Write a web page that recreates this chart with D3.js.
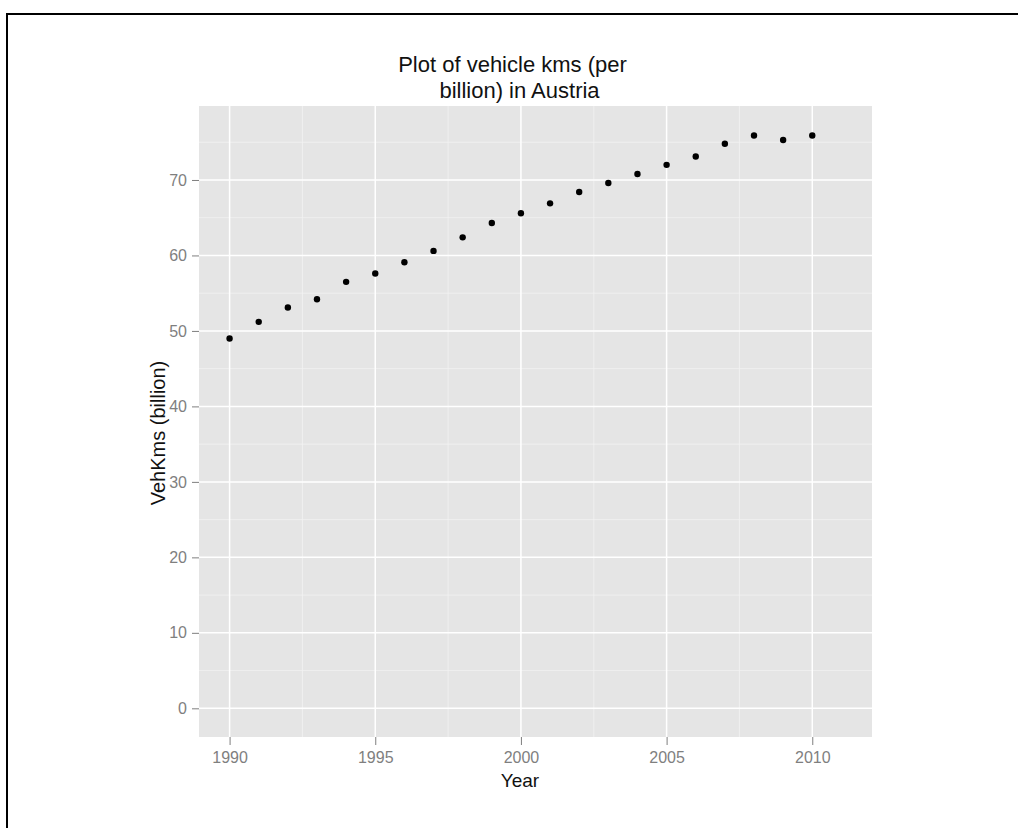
<!DOCTYPE html>
<html>
<head>
<meta charset="utf-8">
<script src="https://cdn.jsdelivr.net/npm/d3@7"></script>
<style>
  html, body { margin: 0; padding: 0; background: #fff; }
  svg { display: block; }
</style>
</head>
<body>
<svg id="chart" width="1018" height="828"></svg>
<script>
const years = [1990, 1991, 1992, 1993, 1994, 1995, 1996, 1997, 1998, 1999, 2000,
               2001, 2002, 2003, 2004, 2005, 2006, 2007, 2008, 2009, 2010];
const vehKms = [49.0, 51.2, 53.1, 54.2, 56.5, 57.6, 59.1, 60.6, 62.4, 64.3, 65.6,
                66.9, 68.4, 69.6, 70.8, 72.0, 73.1, 74.8, 75.9, 75.3, 75.9];
const xTicks = [1990, 1995, 2000, 2005, 2010];
const xMinor = [1992.5, 1997.5, 2002.5, 2007.5];
const yTicks = [0, 10, 20, 30, 40, 50, 60, 70];
const yMinor = [5, 15, 25, 35, 45, 55, 65, 75];
const titleLines = ["Plot of vehicle kms (per", "billion) in Austria"];
const xLabel = "Year";
const yLabel = "VehKms (billion)";

const svg = d3.select("#chart");
const font = "'Liberation Sans', Arial, sans-serif";

// outer frame (only top and left edges visible in reference)
svg.append("line").attr("x1", 6).attr("x2", 1018).attr("y1", 14).attr("y2", 14)
  .attr("stroke", "#000").attr("stroke-width", 2);
svg.append("line").attr("x1", 7).attr("x2", 7).attr("y1", 13).attr("y2", 828)
  .attr("stroke", "#000").attr("stroke-width", 2);

const panel = {left: 199, right: 872, top: 106, bottom: 737};
const x = d3.scaleLinear().domain([1988.95, 2012.05]).range([panel.left, panel.right]);
const y = d3.scaleLinear().domain([-3.8, 79.8]).range([panel.bottom, panel.top]);

// panel background
svg.append("rect")
  .attr("x", panel.left).attr("y", panel.top)
  .attr("width", panel.right - panel.left).attr("height", panel.bottom - panel.top)
  .attr("fill", "#e5e5e5");

const grid = svg.append("g");
// minor grid
grid.selectAll(".vminor").data(xMinor).join("line")
  .attr("x1", d => x(d)).attr("x2", d => x(d))
  .attr("y1", panel.top).attr("y2", panel.bottom)
  .attr("stroke", "#f2f2f2").attr("stroke-width", 0.8);
grid.selectAll(".hminor").data(yMinor).join("line")
  .attr("y1", d => y(d)).attr("y2", d => y(d))
  .attr("x1", panel.left).attr("x2", panel.right)
  .attr("stroke", "#f2f2f2").attr("stroke-width", 0.8);
// major grid
grid.selectAll(".vmajor").data(xTicks).join("line")
  .attr("x1", d => x(d)).attr("x2", d => x(d))
  .attr("y1", panel.top).attr("y2", panel.bottom)
  .attr("stroke", "#ffffff").attr("stroke-width", 1.5);
grid.selectAll(".hmajor").data(yTicks).join("line")
  .attr("y1", d => y(d)).attr("y2", d => y(d))
  .attr("x1", panel.left).attr("x2", panel.right)
  .attr("stroke", "#ffffff").attr("stroke-width", 1.5);

// axes
const xAxis = svg.append("g")
  .attr("transform", `translate(0,${panel.bottom})`)
  .call(d3.axisBottom(x).tickValues(xTicks).tickFormat(d3.format("d")).tickSize(8).tickPadding(7));
const yAxis = svg.append("g")
  .attr("transform", `translate(${panel.left},0)`)
  .call(d3.axisLeft(y).tickValues(yTicks).tickFormat(d3.format("d")).tickSize(7).tickPadding(5));
[xAxis, yAxis].forEach(a => {
  a.select(".domain").remove();
  a.selectAll(".tick line").attr("stroke", "#7f7f7f").attr("stroke-width", 1);
  a.selectAll(".tick text").attr("fill", "#7f7f7f")
    .style("font-family", font).style("font-size", "16px");
});

// points
svg.append("g").selectAll("circle").data(years).join("circle")
  .attr("cx", d => x(d))
  .attr("cy", (d, i) => y(vehKms[i]))
  .attr("r", 3.2)
  .attr("fill", "#000");

// titles
svg.append("text").attr("x", 512.5).attr("y", 72)
  .attr("text-anchor", "middle").attr("fill", "#111")
  .style("font-family", font).style("font-size", "22px")
  .text(titleLines[0]);
svg.append("text").attr("x", 519.5).attr("y", 98)
  .attr("text-anchor", "middle").attr("fill", "#111")
  .style("font-family", font).style("font-size", "22px")
  .text(titleLines[1]);

svg.append("text").attr("x", 520).attr("y", 787)
  .attr("text-anchor", "middle").attr("fill", "#111")
  .style("font-family", font).style("font-size", "19px")
  .text(xLabel);

svg.append("text")
  .attr("transform", "translate(165,433) rotate(-90)")
  .attr("text-anchor", "middle").attr("fill", "#111")
  .style("font-family", font).style("font-size", "20px")
  .text(yLabel);
</script>
</body>
</html>
